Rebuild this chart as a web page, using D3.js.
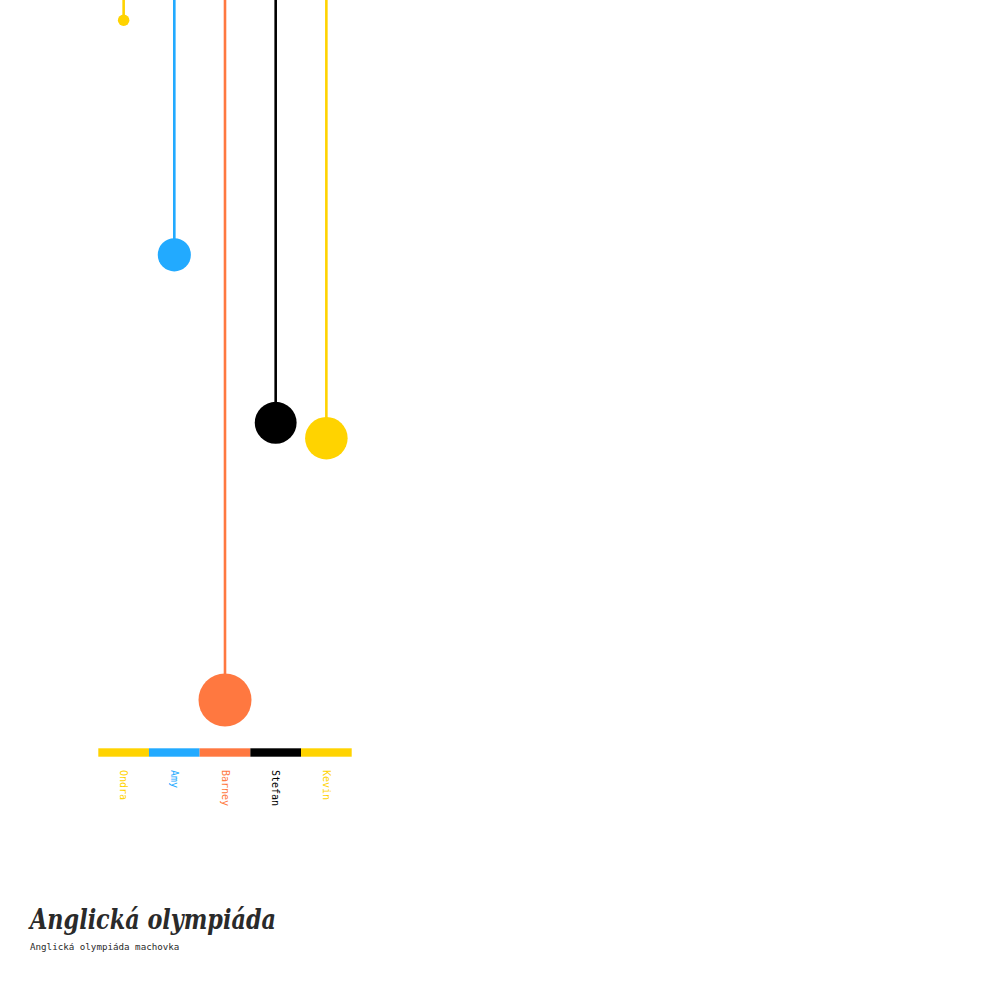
<!DOCTYPE html>
<html>
<head>
<meta charset="utf-8">
<script src="https://cdn.jsdelivr.net/npm/d3@7"></script>
<style>
  body { margin: 0; background: #fff; }
</style>
</head>
<body>
<div id="chart"></div>
<script>
// data
const names = ["Ondra", "Amy", "Barney", "Stefan", "Kevin"];
const scores = [2.9, 36.4, 100, 60.4, 62.6];
const colors = ["#FFD300", "#22AAFF", "#FF7840", "#000000", "#FFD300"];

const width = 1000, height = 1000;

const svg = d3.select("#chart").append("svg")
  .attr("width", width)
  .attr("height", height);

// band positions
const x = d3.scaleBand()
  .domain(names)
  .range([98.3, 351.7]);

// drop length
const y = d3.scaleLinear()
  .domain([0, d3.max(scores)])
  .range([0, 700]);

// circle size
const r = d3.scaleSqrt()
  .domain([0, d3.max(scores)])
  .range([1.5, 26.5]);

const rows = names.map((n, i) => ({ name: n, score: scores[i], color: colors[i] }));

// strings hanging from top
svg.selectAll("line.drop")
  .data(rows)
  .enter()
  .append("line")
  .attr("class", "drop")
  .attr("x1", d => x(d.name) + x.bandwidth() / 2)
  .attr("x2", d => x(d.name) + x.bandwidth() / 2)
  .attr("y1", 0)
  .attr("y2", d => y(d.score))
  .style("stroke", d => d.color)
  .style("stroke-width", 2.6);

// weights
svg.selectAll("circle")
  .data(rows)
  .enter()
  .append("circle")
  .attr("cx", d => x(d.name) + x.bandwidth() / 2)
  .attr("cy", d => y(d.score))
  .attr("r", d => r(d.score))
  .style("fill", d => d.color);

// colour bar at bottom
svg.selectAll("rect.band")
  .data(rows)
  .enter()
  .append("rect")
  .attr("class", "band")
  .attr("x", d => x(d.name))
  .attr("y", 748.3)
  .attr("width", x.bandwidth())
  .attr("height", 8.4)
  .style("fill", d => d.color);

// names, rotated
svg.selectAll("text.name")
  .data(rows)
  .enter()
  .append("text")
  .attr("class", "name")
  .attr("transform", d => `translate(${x(d.name) + x.bandwidth() / 2},770) rotate(90)`)
  .attr("dy", "0.35em")
  .style("font-family", "'DejaVu Sans Mono', monospace")
  .style("font-size", "10px")
  .style("fill", d => d.color)
  .text(d => d.name);

// title
svg.append("text")
  .attr("x", 30)
  .attr("y", 929)
  .attr("textLength", 246)
  .attr("lengthAdjust", "spacingAndGlyphs")
  .style("font-family", "'DejaVu Serif', serif")
  .style("font-style", "italic")
  .style("font-weight", "bold")
  .style("font-size", "28px")
  .style("fill", "#2a2a2a")
  .text("Anglická olympiáda");

svg.append("text")
  .attr("x", 30)
  .attr("y", 950)
  .style("font-family", "'DejaVu Sans Mono', monospace")
  .style("font-size", "9.2px")
  .style("fill", "#2a2a2a")
  .text("Anglická olympiáda machovka");
</script>
</body>
</html>
